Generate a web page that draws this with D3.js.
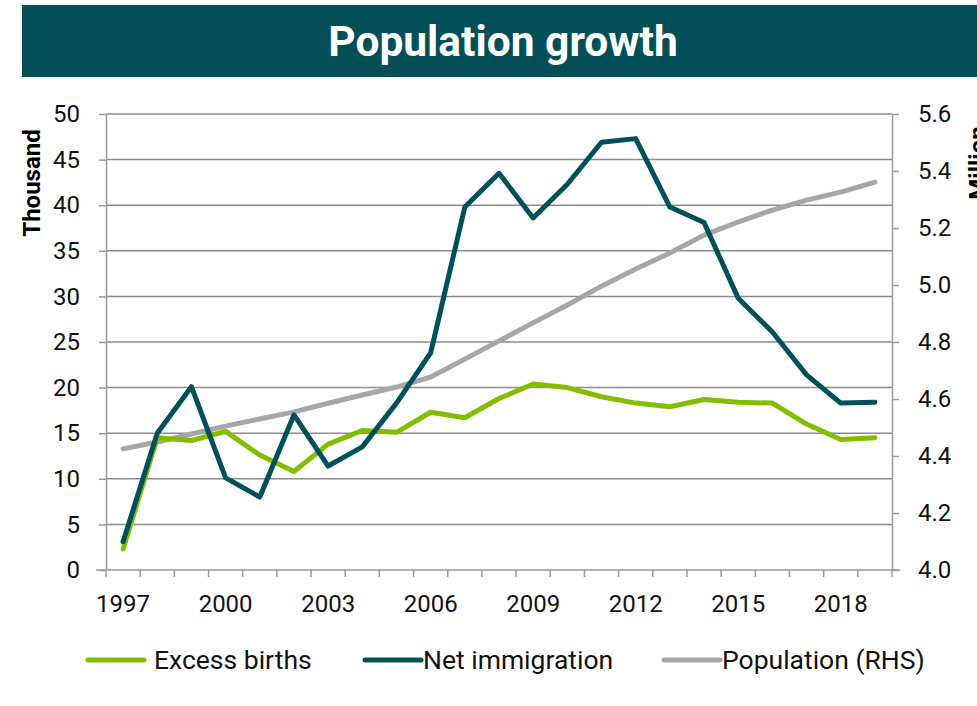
<!DOCTYPE html>
<html>
<head>
<meta charset="utf-8">
<script src="https://cdn.jsdelivr.net/npm/d3@7"></script>
<style>
  body { margin: 0; background: #fff; }
  text { font-family: Roboto, "Liberation Sans", sans-serif; }
</style>
</head>
<body>
<script>
  // data
  var years = d3.range(1997, 2020);
  var excessBirths = [2.3, 14.5, 14.2, 15.2, 12.6, 10.8, 13.8, 15.3, 15.1, 17.3, 16.7, 18.8,
                      20.4, 20.0, 19.0, 18.3, 17.9, 18.7, 18.4, 18.3, 16.0, 14.3, 14.5];
  var netImmigration = [3.1, 15.0, 20.1, 10.1, 8.0, 17.0, 11.4, 13.5, 18.3, 23.8, 39.8, 43.5,
                        38.6, 42.3, 46.9, 47.3, 39.8, 38.1, 29.8, 26.1, 21.4, 18.3, 18.4];
  var population = [4.425, 4.449, 4.477, 4.505, 4.530, 4.555, 4.585, 4.614, 4.642, 4.677, 4.740, 4.804,
                    4.867, 4.930, 4.996, 5.056, 5.112, 5.175, 5.221, 5.263, 5.298, 5.326, 5.361];
  var yearLabels = [1997, 2000, 2003, 2006, 2009, 2012, 2015, 2018];
  var leftTicks = d3.range(0, 51, 5);
  var rightTicks = [4.0, 4.2, 4.4, 4.6, 4.8, 5.0, 5.2, 5.4, 5.6];

  var W = 977, H = 706;
  var pLeft = 106, pRight = 892, pTop = 114, pBottom = 570;
  var green = "#84bd00", teal = "#00505a", grey = "#a6a6a6", axisCol = "#999";

  var svg = d3.select("body").append("svg")
      .attr("width", W)
      .attr("height", H);

  // title banner
  svg.append("rect")
      .attr("x", 22).attr("y", 5)
      .attr("width", W - 22).attr("height", 72)
      .attr("fill", "#024f57");
  svg.append("text")
      .attr("x", 503).attr("y", 56)
      .attr("text-anchor", "middle")
      .style("font-size", "42.5px")
      .style("font-weight", "bold")
      .attr("fill", "#fff")
      .text("Population growth");

  var x = d3.scaleBand().domain(years).range([pLeft, pRight]);
  var yL = d3.scaleLinear().domain([0, 50]).range([pBottom, pTop]);
  var yR = d3.scaleLinear().domain([4.0, 5.6]).range([pBottom, pTop]);

  // gridlines
  svg.append("g").selectAll("line")
      .data(leftTicks.slice(1))
      .enter().append("line")
      .attr("x1", pLeft).attr("x2", pRight)
      .attr("y1", function(d) { return yL(d); })
      .attr("y2", function(d) { return yL(d); })
      .attr("stroke", "#8c8c8c")
      .attr("stroke-width", 1.5);

  // left axis
  var gL = svg.append("g")
      .attr("transform", "translate(" + pLeft + ",0)")
      .call(d3.axisLeft(yL).tickValues(leftTicks).tickSize(7).tickPadding(19).tickSizeOuter(0));
  // right axis
  var gR = svg.append("g")
      .attr("transform", "translate(" + pRight + ",0)")
      .call(d3.axisRight(yR).tickValues(rightTicks).tickFormat(d3.format(".1f"))
            .tickSize(7).tickPadding(19).tickSizeOuter(0));
  // bottom axis: labels every third year, ticks on band edges
  var gB = svg.append("g")
      .attr("transform", "translate(0," + pBottom + ")")
      .call(d3.axisBottom(x).tickValues(yearLabels).tickSize(0).tickPadding(25).tickSizeOuter(0));
  gB.selectAll(".tick line").remove();
  gB.append("g").selectAll("line")
      .data(years.concat([null]))
      .enter().append("line")
      .attr("x1", function(d) { return d === null ? pRight : x(d); })
      .attr("x2", function(d) { return d === null ? pRight : x(d); })
      .attr("y1", 0).attr("y2", 7)
      .attr("stroke", axisCol).attr("stroke-width", 1.5);

  [gL, gR, gB].forEach(function(g) {
    g.selectAll(".domain").attr("stroke", axisCol).attr("stroke-width", 1.5);
    g.selectAll(".tick line").attr("stroke", axisCol).attr("stroke-width", 1.5);
    g.selectAll("text")
        .style("font-size", "24px")
        .style("font-family", "Roboto, sans-serif")
        .attr("fill", "#111");
  });
  gB.select(".domain").attr("d", "M" + (pLeft - 10) + ",0H" + (pRight + 8));

  // axis titles
  svg.append("text")
      .attr("transform", "translate(40,183)rotate(-90)")
      .attr("text-anchor", "middle")
      .style("font-size", "24px")
      .style("font-weight", "bold")
      .text("Thousand");
  svg.append("text")
      .attr("transform", "translate(986,163)rotate(-90)")
      .attr("text-anchor", "middle")
      .style("font-size", "24px")
      .style("font-weight", "bold")
      .text("Million");

  function cx(d) { return x(d) + x.bandwidth() / 2; }

  var series = [
    { name: "Population (RHS)", values: population, scale: yR, color: grey },
    { name: "Excess births", values: excessBirths, scale: yL, color: green },
    { name: "Net immigration", values: netImmigration, scale: yL, color: teal }
  ];

  series.forEach(function(s) {
    var line = d3.line()
        .x(function(d, i) { return cx(years[i]); })
        .y(function(d) { return s.scale(d); });
    svg.append("path")
        .datum(s.values)
        .attr("d", line)
        .attr("fill", "none")
        .attr("stroke", s.color)
        .attr("stroke-width", 5)
        .attr("stroke-linejoin", "round")
        .attr("stroke-linecap", "round");
  });

  // legend
  var legend = [
    { name: "Excess births", color: green, x: 88 },
    { name: "Net immigration", color: teal, x: 365 },
    { name: "Population (RHS)", color: grey, x: 664 }
  ];
  var lg = svg.append("g").selectAll("g")
      .data(legend)
      .enter().append("g")
      .attr("transform", function(d) { return "translate(" + d.x + ",660)"; });
  lg.append("line")
      .attr("x1", 0).attr("x2", 56)
      .attr("stroke", function(d) { return d.color; })
      .attr("stroke-width", 5)
      .attr("stroke-linecap", "round");
  lg.append("text")
      .attr("x", function(d, i) { return i === 0 ? 66 : 58; })
      .attr("y", 9)
      .style("font-size", "26.5px")
      .attr("fill", "#111")
      .text(function(d) { return d.name; });
</script>
</body>
</html>
